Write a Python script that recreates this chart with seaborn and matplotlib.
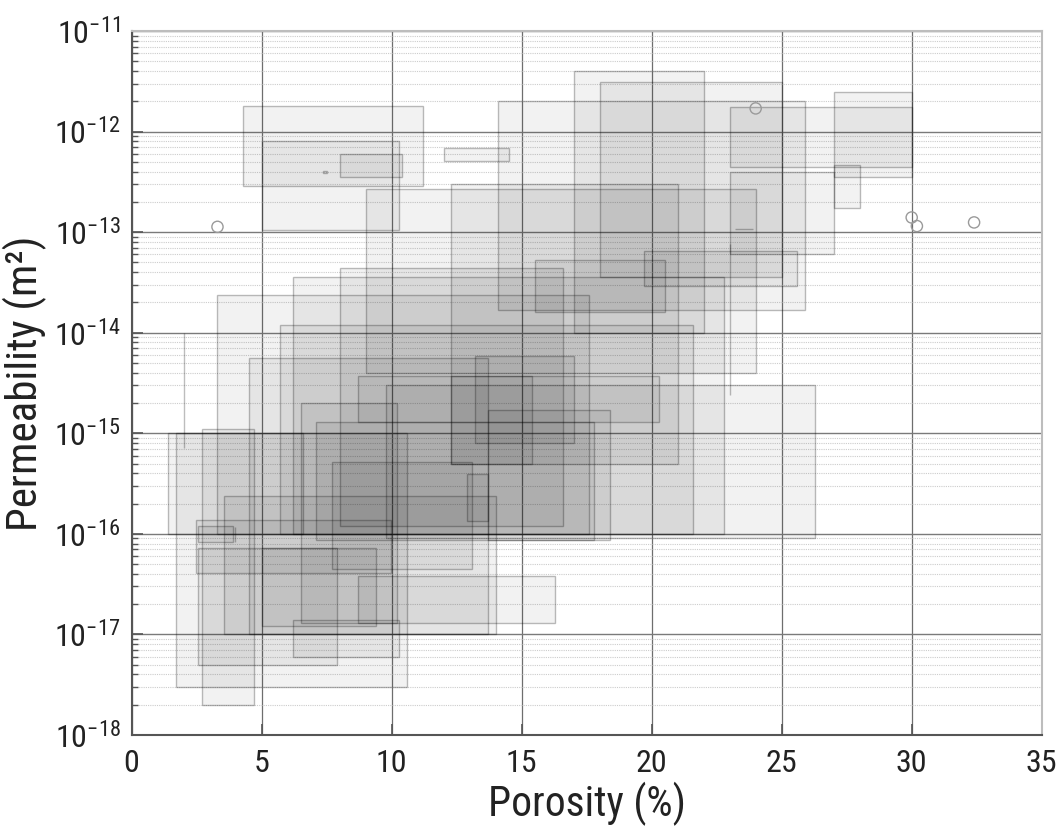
import matplotlib
matplotlib.use("Agg")
import matplotlib.pyplot as plt
import seaborn as sns
from matplotlib import font_manager
from matplotlib.ticker import FixedLocator, LogFormatterMathtext, NullFormatter

# Porosity range (%) and permeability range (m²) of each rock set
por_lo = [4.3, 5.0, 8.0, 7.35, 12.0, 17.0, 18.0, 14.1, 23.0, 27.0, 27.0, 23.0,
          9.0, 12.3, 15.5, 19.7, 23.2, 23.0, 2.0, 8.0, 6.2, 3.3, 5.7, 13.2,
          4.5, 8.7, 12.3, 9.8, 6.5, 13.7, 7.1, 2.7, 1.7, 1.4, 7.7, 12.9,
          3.55, 2.47, 2.55, 3.98, 2.55, 5.0, 6.2, 8.7]
por_hi = [11.2, 10.3, 10.4, 7.5, 14.5, 22.0, 25.0, 25.9, 30.0, 30.0, 28.0, 27.0,
          24.0, 21.0, 20.5, 25.6, 23.9, 23.0, 2.0, 16.6, 22.8, 17.6, 21.6, 17.0,
          13.7, 20.3, 15.4, 26.3, 10.2, 18.4, 17.8, 4.7, 10.6, 6.6, 13.1, 13.7,
          14.0, 9.97, 3.9, 3.98, 7.9, 9.4, 10.3, 16.3]
perm_lo = [2.9e-13, 1.05e-13, 3.5e-13, 3.9e-13, 5.1e-13, 1.0e-14, 3.6e-14, 1.7e-14,
           4.4e-13, 3.5e-13, 1.75e-13, 6.0e-14, 4.0e-15, 5.0e-16, 1.6e-14, 2.9e-14,
           1.08e-13, 2.4e-15, 7.1e-16, 1.2e-16, 1.0e-16, 1.0e-16, 1.0e-16, 8.1e-16,
           1.0e-17, 1.3e-15, 5.0e-16, 9.0e-17, 1.3e-17, 8.7e-17, 8.6e-17, 2.0e-18,
           3.0e-18, 1.0e-16, 4.5e-17, 1.35e-16, 1.0e-17, 4.06e-17, 8.3e-17, 8.4e-17,
           5.0e-18, 1.2e-17, 6.0e-18, 1.3e-17]
perm_hi = [1.8e-12, 8.0e-13, 6.0e-13, 4.1e-13, 6.8e-13, 4.0e-12, 3.1e-12, 2.0e-12,
           1.75e-12, 2.5e-12, 4.7e-13, 4.0e-13, 2.7e-13, 3.0e-13, 5.3e-14, 6.5e-14,
           1.08e-13, 7.7e-14, 1.0e-14, 4.4e-14, 3.6e-14, 2.35e-14, 1.2e-14, 5.9e-15,
           5.6e-15, 3.7e-15, 3.7e-15, 3.0e-15, 2.0e-15, 1.7e-15, 1.3e-15, 1.1e-15,
           1.0e-15, 1.0e-15, 5.2e-16, 3.9e-16, 2.4e-16, 1.37e-16, 1.2e-16, 1.17e-16,
           7.2e-17, 7.2e-17, 1.4e-17, 3.8e-17]

# Single measurements
pt_por = [3.3, 24.0, 30.0, 30.2, 32.4]
pt_perm = [1.13e-13, 1.7e-12, 1.4e-13, 1.15e-13, 1.25e-13]

x_ticks = [0, 5, 10, 15, 20, 25, 30, 35]
y_decades = [-18, -17, -16, -15, -14, -13, -12, -11]

sns.set_theme(style="white")


def narrow_face():
    """Return (family, stretch) of an installed upright condensed sans face."""
    prefs = ["Liberation Sans Narrow", "Arial Narrow", "Roboto Condensed",
             "Open Sans Condensed", "Noto Sans", "DejaVu Sans", "Open Sans",
             "Roboto", "Liberation Sans"]
    for name in prefs:
        for f in font_manager.fontManager.ttflist:
            if f.name != name or f.style != "normal":
                continue
            if f.weight not in (400, "normal", "regular", "book"):
                continue
            stretch = str(f.stretch)
            if "Narrow" in name or "Condensed" in name:
                return name, stretch
            if stretch in ("condensed", "semi-condensed", "extra-condensed"):
                return name, stretch
    return None


face = narrow_face()
if face:
    family, stretch = face
    tick_size, xlabel_size, ylabel_size = 23, 30, 31
else:
    family, stretch = "Liberation Sans", "normal"
    tick_size, xlabel_size, ylabel_size = 21, 26, 27

plt.rcParams["font.family"] = [family, "DejaVu Sans"]
plt.rcParams["font.stretch"] = stretch
plt.rcParams["mathtext.fontset"] = "custom"
plt.rcParams["mathtext.rm"] = f"{family}:stretch={stretch}"
plt.rcParams["mathtext.it"] = f"{family}:stretch={stretch}"
plt.rcParams["mathtext.default"] = "regular"

fig = plt.figure(figsize=(10.61, 8.27), dpi=100)
ax = fig.add_axes([0.1241, 0.1112, 0.8577, 0.8513])
ax.set_yscale("log")

# Range boxes
widths = [h - l for l, h in zip(por_lo, por_hi)]
heights = [h - l for l, h in zip(perm_lo, perm_hi)]
ax.bar(por_lo, heights, width=widths, bottom=perm_lo, align="edge",
       facecolor=(0, 0, 0, 0.05), edgecolor=(0, 0, 0, 0.26),
       linewidth=1.0, zorder=2)

sns.scatterplot(x=pt_por, y=pt_perm, ax=ax, marker="o", s=65,
                color="none", edgecolor="#9a9a9a", linewidth=1.0, zorder=3)

ax.set_xlim(0, 35)
ax.set_ylim(10.0 ** y_decades[0], 10.0 ** y_decades[-1])
ax.set_xticks(x_ticks)
ax.yaxis.set_major_locator(FixedLocator([10.0 ** e for e in y_decades]))
ax.yaxis.set_major_formatter(LogFormatterMathtext())
ax.yaxis.set_minor_locator(FixedLocator(
    [m * 10.0 ** e for e in y_decades[:-1] for m in range(2, 10)]))
ax.yaxis.set_minor_formatter(NullFormatter())

ax.grid(which="major", axis="x", color="#6e6e6e", linewidth=0.9, zorder=1)
ax.grid(which="major", axis="y", color="#7a7a7a", linewidth=1.0, zorder=1)
ax.grid(which="minor", axis="y", color="#cccccc", linewidth=0.8,
        linestyle=(0, (1, 1)), zorder=1)
ax.set_axisbelow(True)

ax.tick_params(axis="both", which="major", direction="in", length=8, width=1.2,
               color="#555555", labelsize=tick_size, labelcolor="#222222")
ax.tick_params(axis="x", which="major", pad=10, bottom=True)
ax.tick_params(axis="y", which="major", pad=8, left=True)
ax.tick_params(axis="y", which="minor", direction="in", length=4, width=1.0,
               color="#555555", left=True)

for side in ("left", "bottom"):
    ax.spines[side].set_color("#555555")
    ax.spines[side].set_linewidth(1.5)
for side in ("top", "right"):
    ax.spines[side].set_color("#bdbdbd")
    ax.spines[side].set_linewidth(1.5)

ax.set_xlabel("Porosity (%)", fontsize=xlabel_size, color="#222222", labelpad=3)
ax.set_ylabel("Permeability (m²)", fontsize=ylabel_size, color="#222222",
              labelpad=5)

fig.savefig("out.png", dpi=100)
